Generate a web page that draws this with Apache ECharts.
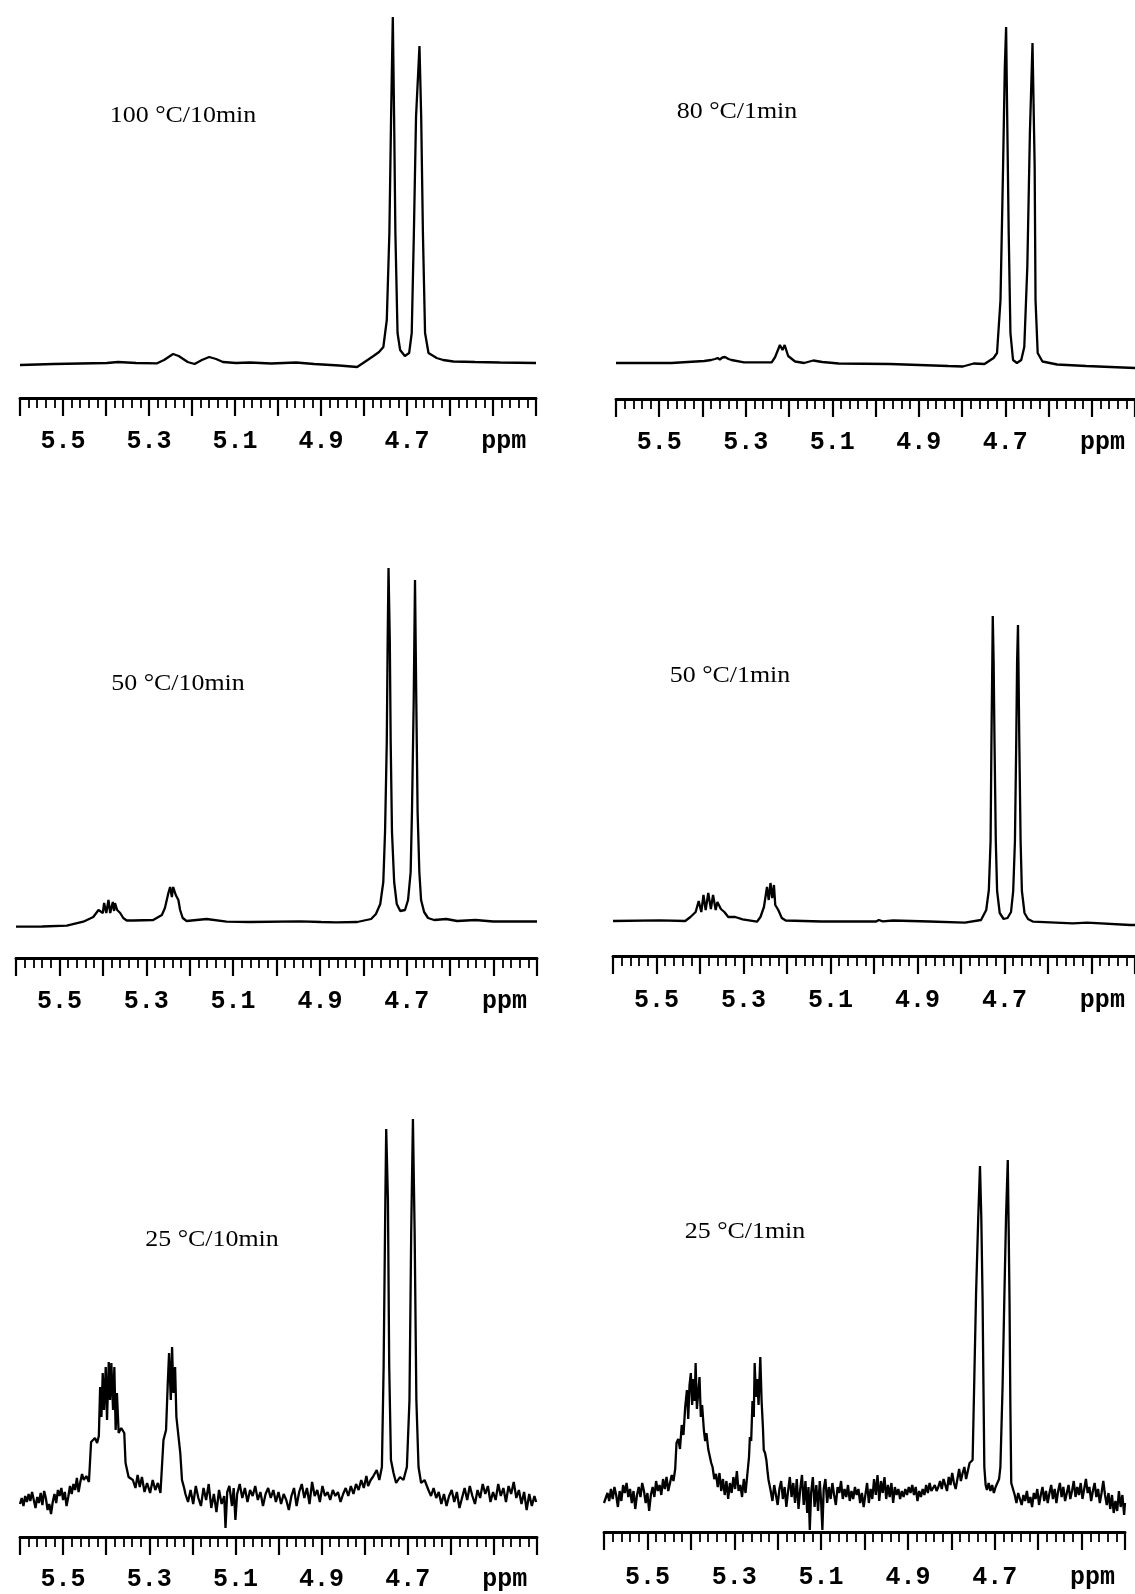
<!DOCTYPE html>
<html>
<head>
<meta charset="utf-8">
<script src="https://cdn.jsdelivr.net/npm/echarts@6/dist/echarts.min.js"></script>
<style>
  html, body { margin: 0; padding: 0; background: #fff; }
  #chart { width: 1135px; height: 1594px; }
</style>
</head>
<body>
<div id="chart"></div>
<script>
// Chemical-shift axis: major ticks every 0.1 ppm, labels every 0.2 ppm
const majorTicks = [5.6, 5.5, 5.4, 5.3, 5.2, 5.1, 5.0, 4.9, 4.8, 4.7, 4.6, 4.5, 4.4];
const tickLabels = ['5.5', '5.3', '5.1', '4.9', '4.7'];
const unitLabel = 'ppm';
const unitPos = 4.475;

const panelTitles = ['100 °C/10min', '80 °C/1min', '50 °C/10min', '50 °C/1min', '25 °C/10min', '25 °C/1min'];

// 1H spectra, [shift (ppm), intensity above baseline]
const spec100c10 = [
  [5.600,-1],[5.560,-0.5],[5.522,0],[5.460,0.5],[5.398,1],[5.372,2],[5.330,1],[5.281,0.7],[5.265,4],[5.244,10],
  [5.231,8],[5.210,2],[5.194,0],[5.177,4],[5.160,7],[5.144,5],[5.128,2],[5.098,1],[5.065,1.5],[5.016,0.5],
  [4.958,1.5],[4.916,0],[4.858,-1.5],[4.816,-3],[4.802,1],[4.778,8],[4.765,12],[4.755,17],[4.747,44],[4.741,131],
  [4.737,247],[4.733,347],[4.730,247],[4.727,131],[4.722,31],[4.716,14],[4.705,8],[4.695,11],[4.689,31],[4.684,131],
  [4.679,247],[4.671,318],[4.667,247],[4.663,131],[4.658,31],[4.650,11],[4.631,6],[4.616,4],[4.592,2.5],[4.542,2],
  [4.484,1.5],[4.400,1]
];

const spec80c1 = [
  [5.600,0],[5.472,0],[5.396,2],[5.380,3],[5.371,4],[5.365,5],[5.360,3.5],[5.354,5.5],[5.348,6],[5.340,4],
  [5.333,3],[5.304,0.7],[5.240,0.7],[5.232,6],[5.221,18],[5.215,13],[5.210,18],[5.202,7],[5.186,1.5],[5.165,0],
  [5.144,2.5],[5.123,1],[5.085,-0.5],[4.967,-1],[4.832,-3],[4.798,-3.5],[4.773,-0.5],[4.748,-1],[4.727,5],[4.719,10],
  [4.711,63],[4.705,197],[4.701,296],[4.698,336],[4.696,263],[4.692,130],[4.688,30],[4.682,3],[4.673,0],[4.663,3],
  [4.656,16],[4.649,96],[4.643,230],[4.637,320],[4.632,197],[4.630,63],[4.625,10],[4.614,1.5],[4.580,-1.5],[4.513,-3],
  [4.400,-5]
];

const spec50c10 = [
  [5.600,-4.7],[5.540,-4.5],[5.483,-3.7],[5.445,0.3],[5.422,5],[5.410,12],[5.406,14],[5.400,9],[5.397,19],[5.392,9],
  [5.387,22],[5.383,9],[5.377,20],[5.374,11],[5.372,19],[5.367,12],[5.360,9],[5.353,4],[5.345,1.5],[5.330,1.5],
  [5.284,2],[5.264,7],[5.257,14],[5.249,29],[5.245,35],[5.241,25],[5.238,35],[5.232,27],[5.226,22],[5.222,12],
  [5.216,4],[5.207,1],[5.161,3],[5.115,0.3],[5.061,0],[4.946,0.7],[4.897,0],[4.863,-0.3],[4.814,0],[4.782,3],
  [4.771,8],[4.761,18],[4.754,40],[4.750,90],[4.746,180],[4.744,280],[4.742,354],[4.739,280],[4.737,180],[4.734,90],
  [4.729,40],[4.723,18],[4.715,11],[4.711,10],[4.704,12],[4.697,22],[4.691,50],[4.688,110],[4.684,220],[4.681,342],
  [4.678,220],[4.675,110],[4.671,50],[4.667,22],[4.660,10],[4.651,4],[4.637,2],[4.609,3],[4.584,1],[4.542,2],
  [4.501,0.5],[4.400,0.5]
];

const spec50c1 = [
  [5.600,0],[5.492,0.7],[5.434,0],[5.422,4],[5.410,9],[5.403,20],[5.397,9],[5.392,26],[5.387,11],[5.381,28],
  [5.375,12],[5.370,26],[5.364,11],[5.360,19],[5.352,12],[5.344,9],[5.335,4],[5.319,4],[5.302,1.7],[5.269,-0.7],
  [5.261,4],[5.253,14],[5.246,34],[5.242,21],[5.238,38],[5.234,23],[5.230,36],[5.227,16],[5.220,11],[5.212,3],
  [5.203,0.5],[5.121,-0.5],[4.995,-0.5],[4.989,1],[4.980,-0.3],[4.956,0.5],[4.873,-0.5],[4.791,-1.7],[4.754,1],[4.742,11],
  [4.736,31],[4.732,80],[4.730,180],[4.728,260],[4.727,305],[4.725,260],[4.723,180],[4.720,80],[4.717,30],[4.711,8],
  [4.702,2],[4.693,3],[4.685,9],[4.680,30],[4.676,80],[4.673,180],[4.671,260],[4.669,296],[4.668,260],[4.666,180],
  [4.663,80],[4.660,30],[4.654,8],[4.646,2],[4.634,-0.7],[4.543,-2.3],[4.510,-1.7],[4.411,-4],[4.400,-4]
];

const spec25c10 = [
  [5.600,-4],[5.596,2],[5.592,-6],[5.588,4],[5.584,-2],[5.580,6],[5.576,-1],[5.572,8],[5.568,0],[5.564,-8],
  [5.560,3],[5.556,-3],[5.552,7],[5.548,-5],[5.544,9],[5.540,2],[5.536,-10],[5.532,-4],[5.528,-14],[5.524,-2],
  [5.520,6],[5.516,-3],[5.512,10],[5.508,4],[5.504,12],[5.500,0],[5.496,8],[5.492,-6],[5.488,3],[5.484,14],
  [5.480,6],[5.476,16],[5.472,10],[5.468,22],[5.464,8],[5.460,18],[5.456,26],[5.452,20],[5.446,24],[5.440,18],
  [5.435,58],[5.431,58],[5.426,62],[5.421,57],[5.417,64],[5.414,113],[5.411,83],[5.408,127],[5.405,90],[5.401,133],
  [5.398,80],[5.394,138],[5.391,100],[5.388,137],[5.384,90],[5.381,133],[5.378,70],[5.375,107],[5.371,67],[5.365,72],
  [5.358,67],[5.355,37],[5.348,23],[5.338,20],[5.332,12],[5.327,25],[5.322,13],[5.317,23],[5.311,8],[5.305,17],
  [5.298,7],[5.292,20],[5.286,10],[5.280,17],[5.274,7],[5.267,60],[5.261,70],[5.257,117],[5.254,147],[5.250,100],
  [5.247,153],[5.244,107],[5.240,133],[5.237,83],[5.232,63],[5.228,47],[5.224,20],[5.219,12],
  [5.216,6],[5.210,-2],[5.204,10],[5.198,-4],[5.192,14],[5.186,2],[5.180,-6],[5.174,12],[5.168,0],[5.162,16],
  [5.156,-8],[5.150,6],[5.144,-12],[5.138,10],[5.132,-4],[5.126,4],[5.123,-28],[5.119,8],[5.114,14],[5.108,-6],
  [5.104,12],[5.100,-20],[5.096,6],[5.090,16],[5.084,2],[5.078,12],[5.072,-2],[5.066,10],[5.060,4],[5.054,14],
  [5.048,0],[5.042,8],[5.036,-6],[5.030,6],[5.024,12],[5.018,2],[5.012,10],[5.006,-2],[5.000,8],[4.994,-4],
  [4.988,6],[4.982,0],[4.976,-10],[4.970,4],[4.964,12],[4.958,-6],[4.952,8],[4.946,16],[4.940,2],[4.934,12],
  [4.928,-4],[4.922,18],[4.916,4],[4.910,10],[4.904,-2],[4.898,14],[4.892,4],[4.886,8],[4.880,0],[4.874,10],
  [4.868,4],[4.862,8],[4.856,-2],[4.850,6],[4.844,12],[4.838,4],[4.832,14],[4.826,6],[4.820,16],[4.814,10],
  [4.808,20],[4.802,12],[4.796,24],[4.792,14],[4.786,20],[4.781,23],[4.772,30],[4.766,20],[4.760,33],[4.756,133],
  [4.752,300],[4.750,371],[4.746,300],[4.743,133],[4.739,40],[4.733,27],[4.727,17],[4.718,23],[4.710,20],[4.702,33],
  [4.696,100],[4.692,267],[4.688,381],[4.684,267],[4.680,100],[4.675,33],[4.669,17],[4.661,20],[4.652,10],
  [4.646,4],[4.640,12],[4.634,2],[4.628,8],[4.622,-4],[4.616,6],[4.610,-6],[4.604,4],[4.598,10],[4.592,-2],
  [4.586,8],[4.580,-8],[4.574,2],[4.568,12],[4.562,0],[4.556,14],[4.550,4],[4.544,-4],[4.538,10],[4.532,2],
  [4.526,16],[4.520,6],[4.514,14],[4.508,-2],[4.502,8],[4.496,0],[4.490,16],[4.484,4],[4.478,12],[4.472,-2],
  [4.466,14],[4.460,6],[4.454,18],[4.448,2],[4.442,10],[4.436,-4],[4.430,8],[4.424,-10],[4.418,6],[4.412,-6],
  [4.406,4],[4.402,-2]
];

const spec25c1 = [
  [5.600,-6],[5.596,-8],[5.592,4],[5.588,-4],[5.584,8],[5.580,-2],[5.576,10],[5.572,2],[5.568,-10],[5.564,6],
  [5.560,-4],[5.556,12],[5.552,4],[5.548,14],[5.544,0],[5.540,8],[5.536,-6],[5.532,6],[5.528,-12],[5.524,2],
  [5.520,10],[5.516,0],[5.512,14],[5.508,6],[5.504,-6],[5.500,4],[5.496,-14],[5.492,2],[5.488,10],[5.484,0],
  [5.480,16],[5.476,6],[5.472,12],[5.468,2],[5.464,18],[5.460,8],[5.456,20],[5.452,6],[5.448,14],[5.444,22],
  [5.440,16],[5.436,28],[5.433,54],[5.429,58],[5.425,48],[5.421,72],[5.417,62],[5.413,90],[5.409,107],[5.406,78],
  [5.403,112],[5.400,124],[5.397,92],[5.394,118],[5.391,96],[5.389,134],[5.386,88],[5.383,104],[5.380,120],[5.377,80],
  [5.374,92],[5.370,67],[5.367,56],[5.364,64],[5.360,48],[5.356,47],[5.353,34],[5.350,30],[5.346,18],[5.342,23],
  [5.338,10],[5.334,24],[5.330,6],[5.326,18],[5.322,2],[5.318,16],[5.314,-2],[5.310,14],[5.306,4],[5.302,20],
  [5.298,8],[5.294,26],[5.290,6],[5.286,12],[5.282,0],[5.278,18],[5.274,4],[5.270,22],[5.266,40],[5.264,60],
  [5.261,56],[5.258,96],[5.255,80],[5.253,134],[5.250,100],[5.247,118],[5.244,92],[5.240,140],[5.237,96],[5.234,70],
  [5.232,47],[5.229,44],[5.226,37],[5.223,24],[5.221,17],
  [5.216,6],[5.212,-4],[5.208,12],[5.204,2],[5.200,-8],[5.196,8],[5.192,16],[5.188,-2],[5.184,10],[5.180,-10],
  [5.176,6],[5.172,20],[5.168,0],[5.164,14],[5.160,-6],[5.156,18],[5.152,-12],[5.148,8],[5.144,22],[5.140,-8],
  [5.136,16],[5.132,-16],[5.129,10],[5.126,-33],[5.123,4],[5.119,20],[5.115,-10],[5.111,12],[5.107,-14],[5.103,16],
  [5.100,-4],[5.097,-33],[5.094,8],[5.090,18],[5.086,-6],[5.082,10],[5.078,-2],[5.074,14],[5.070,2],[5.066,-8],
  [5.062,10],[5.058,4],[5.054,16],[5.050,-2],[5.046,8],[5.042,0],[5.038,12],[5.034,-4],[5.030,6],[5.026,-2],
  [5.022,10],[5.018,2],[5.014,8],[5.010,-6],[5.006,4],[5.002,-10],[4.998,2],[4.994,14],[4.990,-6],[4.986,8],
  [4.982,-2],[4.978,18],[4.974,2],[4.970,22],[4.966,-4],[4.962,16],[4.958,4],[4.954,20],[4.950,-2],[4.946,12],
  [4.942,0],[4.938,14],[4.934,-6],[4.930,10],[4.926,2],[4.922,8],[4.918,-2],[4.914,6],[4.910,0],[4.906,8],
  [4.902,2],[4.898,10],[4.894,4],[4.890,12],[4.886,2],[4.882,10],[4.878,-4],[4.874,6],[4.870,0],[4.866,8],
  [4.862,2],[4.858,12],[4.854,4],[4.850,14],[4.846,6],[4.842,4],[4.838,12],[4.834,6],[4.830,10],[4.826,16],
  [4.822,8],[4.818,18],[4.814,12],[4.810,6],[4.806,20],[4.802,12],[4.798,24],[4.794,14],[4.790,8],[4.786,18],
  [4.782,28],[4.778,16],[4.774,24],[4.770,30],[4.766,18],[4.762,26],[4.758,34],[4.754,32],[4.751,37],[4.747,120],
  [4.743,204],[4.738,280],[4.734,331],[4.731,280],[4.728,197],[4.726,110],[4.724,30],[4.721,12],[4.718,7],[4.714,14],
  [4.710,6],[4.706,12],[4.702,4],[4.698,10],[4.694,8],[4.690,18],[4.687,30],[4.682,110],[4.678,197],[4.674,280],
  [4.670,337],[4.668,270],[4.666,197],[4.664,90],[4.662,14],[4.658,8],[4.654,2],[4.650,-6],[4.646,4],[4.642,-2],
  [4.638,-8],[4.634,2],[4.630,-4],[4.626,6],[4.622,-6],[4.618,0],[4.614,-10],[4.610,4],[4.606,-2],[4.602,8],
  [4.598,-8],[4.594,2],[4.590,10],[4.586,-4],[4.582,6],[4.578,-6],[4.574,4],[4.570,12],[4.566,-2],[4.562,8],
  [4.558,-6],[4.554,6],[4.550,14],[4.546,0],[4.542,10],[4.538,-4],[4.534,4],[4.530,12],[4.526,-2],[4.522,6],
  [4.518,16],[4.514,0],[4.510,10],[4.506,2],[4.502,14],[4.498,-2],[4.494,8],[4.490,18],[4.486,4],[4.482,10],
  [4.478,-4],[4.474,6],[4.470,14],[4.466,0],[4.462,8],[4.458,-6],[4.454,4],[4.450,16],[4.446,2],[4.442,-8],
  [4.438,4],[4.434,-12],[4.430,2],[4.426,-16],[4.422,-4],[4.418,-14],[4.414,6],[4.410,-10],[4.406,2],[4.402,-18],
  [4.400,-6]
];

const spectra = [spec100c10, spec80c1, spec50c10, spec50c1, spec25c10, spec25c1];

// Panel placement (pixels): axis span, axis line height, baseline height, plot top, title centre
const panels = [
  { left: 20,  width: 516, top: 8,    axisY: 398,  baseY: 364,  labelMargin: 31, tx: 183, ty: 116 },
  { left: 616, width: 521, top: 8,    axisY: 399,  baseY: 363,  labelMargin: 31, tx: 737, ty: 112 },
  { left: 16,  width: 521, top: 555,  axisY: 958,  baseY: 922,  labelMargin: 31, tx: 178, ty: 684 },
  { left: 613, width: 524, top: 600,  axisY: 956,  baseY: 921,  labelMargin: 32, tx: 730, ty: 676 },
  { left: 20,  width: 517, top: 1110, axisY: 1537, baseY: 1500, labelMargin: 30, tx: 212, ty: 1240 },
  { left: 604, width: 521, top: 1150, axisY: 1532, baseY: 1497, labelMargin: 33, tx: 745, ty: 1232 }
];

// minor ticks: five divisions inside every 0.1 ppm step
const minorTicks = [];
for (let i = 0; i < majorTicks.length - 1; i++) {
  const a = majorTicks[i], b = majorTicks[i + 1];
  for (let k = 1; k < 5; k++) minorTicks.push(+(a + (b - a) * k / 5).toFixed(3));
}
const labelValues = tickLabels.map(Number).concat([unitPos]);

const grids = [], xAxes = [], yAxes = [], series = [], texts = [];
panels.forEach((p, i) => {
  const h = p.axisY - p.top;
  const yMin = -(p.axisY - p.baseY);
  grids.push({ left: p.left, top: p.top, width: p.width, height: h });
  xAxes.push({
    gridIndex: i, type: 'value', min: 4.4, max: 5.6, inverse: true, position: 'bottom',
    axisLine: { show: true, onZero: false, lineStyle: { color: '#000', width: 2.8 } },
    axisTick: { show: true, customValues: majorTicks, length: 18, lineStyle: { color: '#000', width: 2.2 } },
    axisLabel: {
      show: true, customValues: labelValues, margin: p.labelMargin,
      color: '#000', fontFamily: 'Liberation Mono', fontWeight: 'bold', fontSize: 25,
      formatter: v => Math.abs(v - unitPos) < 1e-6 ? unitLabel : Number(v).toFixed(1)
    },
    splitLine: { show: false }
  });
  xAxes.push({
    gridIndex: i, type: 'value', min: 4.4, max: 5.6, inverse: true, position: 'bottom',
    axisLine: { show: false, onZero: false },
    axisTick: { show: true, customValues: minorTicks, length: 10, lineStyle: { color: '#000', width: 1.8 } },
    axisLabel: { show: false },
    splitLine: { show: false }
  });
  yAxes.push({ gridIndex: i, type: 'value', min: yMin, max: yMin + h, show: false });
  series.push({
    type: 'line', xAxisIndex: 2 * i, yAxisIndex: i, data: spectra[i],
    showSymbol: false, symbol: 'none', silent: true, clip: true,
    lineStyle: { color: '#000', width: 2.3 }
  });
  texts.push({
    type: 'text', x: p.tx, y: p.ty, scaleX: 1.08, silent: true,
    style: { text: panelTitles[i], font: '24px "Liberation Serif"', fill: '#000', align: 'center', verticalAlign: 'middle' }
  });
});

const chart = echarts.init(document.getElementById('chart'), null, { renderer: 'canvas' });
chart.setOption({
  backgroundColor: '#fff',
  animation: false,
  grid: grids,
  xAxis: xAxes,
  yAxis: yAxes,
  series: series,
  graphic: texts
});
</script>
</body>
</html>
